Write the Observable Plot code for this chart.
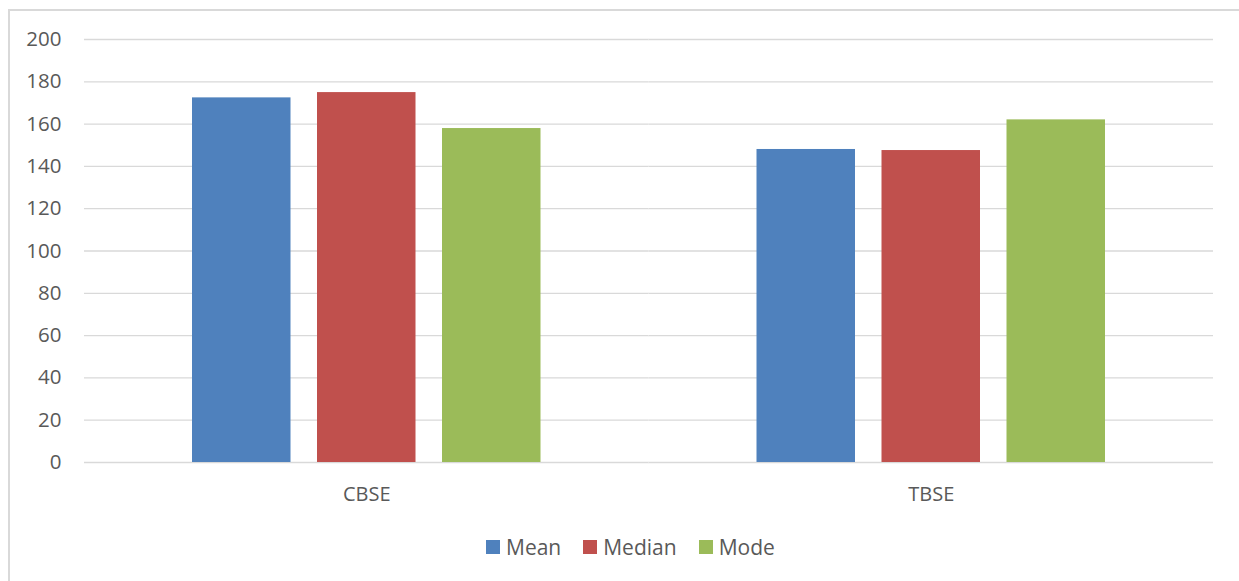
<!DOCTYPE html>
<html>
<head>
<meta charset="utf-8">
<script src="https://cdn.jsdelivr.net/npm/d3@7"></script>
<script src="https://cdn.jsdelivr.net/npm/@observablehq/plot@0.6"></script>
<style>
  html, body { margin: 0; padding: 0; background: #fff; overflow: hidden; }
  #wrap { position: relative; width: 1239px; height: 581px; font-family: "Open Sans", sans-serif; }
  #frame { position: absolute; left: 8px; top: 9px; width: 1300px; height: 700px; border: 2px solid #d9d9d9; box-sizing: border-box; }
  #chart { position: absolute; left: 0; top: 0; }
  #legend { position: absolute; left: 486px; top: 533px; height: 28px; display: flex; align-items: center; font-size: 21px; color: #595959; font-family: "Open Sans", sans-serif; }
  .item { display: flex; align-items: center; margin-right: 22px; }
  .sw { width: 14px; height: 14px; margin-right: 6px; }
</style>
</head>
<body>
<div id="wrap">
  <div id="frame"></div>
  <div id="chart"></div>
  <div id="legend"></div>
</div>
<script>
const groups = ["CBSE", "TBSE"];
const measures = ["Mean", "Median", "Mode"];
const cbseValues = [172.4, 174.9, 157.9];
const tbseValues = [148.0, 147.5, 162.0];
const yTicks = [0, 20, 40, 60, 80, 100, 120, 140, 160, 180, 200];
const colors = ["#4f81bd", "#c0504d", "#9bbb59"];

const seriesByGroup = [cbseValues, tbseValues];
const rows = groups.flatMap((g, i) => measures.map((m, j) => ({group: g, measure: m, value: seriesByGroup[i][j]})));

const plot = Plot.plot({
  width: 1239,
  height: 520,
  marginLeft: 84,
  marginRight: 26,
  marginTop: 39,
  marginBottom: 58,
  style: {color: "#595959", fontFamily: "'Open Sans', sans-serif", background: "transparent"},
  fx: {domain: groups, padding: 0, label: null, round: false},
  x: {domain: measures, paddingInner: 0.212, paddingOuter: 0.864, axis: null, round: false},
  y: {domain: [0, 200], axis: null},
  color: {domain: measures, range: colors},
  marks: [
    Plot.gridY(yTicks, {stroke: "#d9d9d9", strokeOpacity: 1, strokeWidth: 1.3}),
    Plot.barY(rows, {fx: "group", x: "measure", y: "value", fill: "measure"}),
    Plot.axisY(yTicks, {tickSize: 0, tickPadding: 23, fontSize: 20.5, label: null, tickFormat: d => String(d)}),
    Plot.axisFx({anchor: "bottom", tickSize: 0, tickPadding: 24, fontSize: 20, label: null})
  ]
});
document.getElementById("chart").appendChild(plot);

const legend = d3.select("#legend");
measures.forEach((m, i) => {
  const item = legend.append("div").attr("class", "item");
  item.append("div").attr("class", "sw").style("background", colors[i]);
  item.append("span").text(m);
});
</script>
</body>
</html>
